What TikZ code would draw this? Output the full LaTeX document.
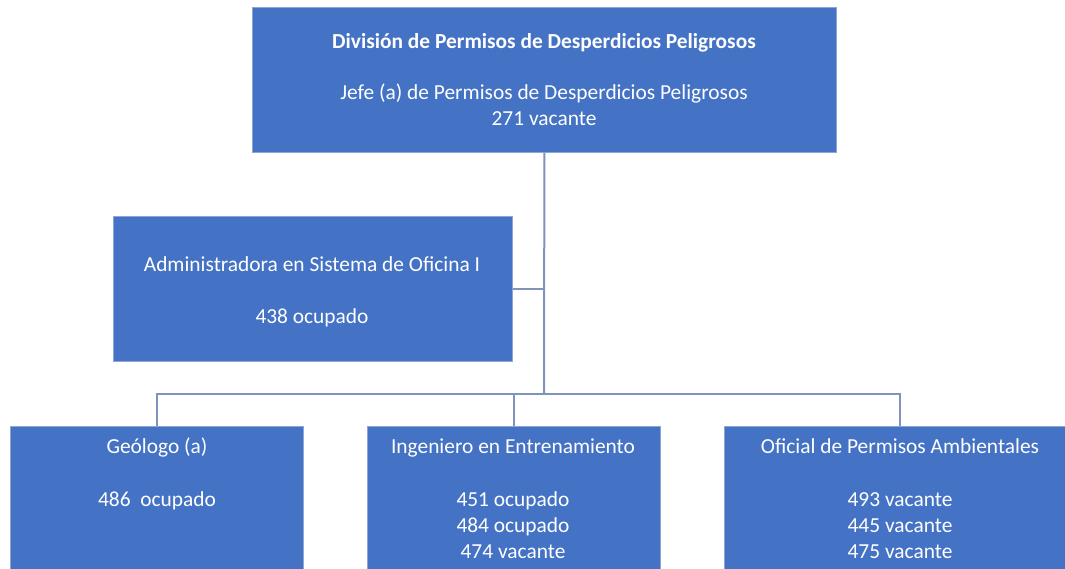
\documentclass[tikz,border=0pt]{standalone}
\usepackage{fontspec}
\setmainfont{Carlito}
\definecolor{boxfill}{HTML}{4472C4}
\definecolor{boxedge}{HTML}{8EA5D6}
\definecolor{linec}{HTML}{7F93BC}
\begin{document}
\begin{tikzpicture}[x=1pt,y=-1pt,
  box/.style={draw=boxedge, fill=boxfill, line width=0.8pt, anchor=north west, inner sep=0pt},
  lbl/.style={text=white, font=\fontsize{21.4}{26}\selectfont, inner sep=0pt, anchor=base},
  conn/.style={draw=linec, line width=2pt}]
\clip (0,0) rectangle (1065,569);
\fill[white] (0,0) rectangle (1065,569);
% boxes
\node[box, minimum width=584pt, minimum height=145pt] (top) at (252,7) {};
\node[box, minimum width=399pt, minimum height=145pt] (admin) at (113,216) {};
\node[box, minimum width=293pt, minimum height=160pt] (geo) at (10,426) {};
\node[box, minimum width=293pt, minimum height=160pt] (ing) at (367,426) {};
\node[box, minimum width=352pt, minimum height=160pt] (ofi) at (724,426) {};
% texts
\node[lbl, font=\bfseries\fontsize{21.4}{26}\selectfont] (t1) at (544,49) {División de Permisos de Desperdicios Peligrosos};
\node[lbl] (t2) at (544,100) {Jefe (a) de Permisos de Desperdicios Peligrosos};
\node[lbl] (t3) at (544,126) {271 vacante};
\node[lbl] (a1) at (312,272) {Administradora en Sistema de Oficina I};
\node[lbl] (a2) at (312,323) {438 ocupado};
\node[lbl] (g1) at (157,453) {Geólogo (a)};
\node[lbl] (g2) at (157,506) {486\ \ ocupado};
\node[lbl] (i1) at (513,453) {Ingeniero en Entrenamiento};
\node[lbl] (i2) at (513,506) {451 ocupado};
\node[lbl] (i3) at (513,532) {484 ocupado};
\node[lbl] (i4) at (513,558) {474 vacante};
\node[lbl] (o1) at (900,453) {Oficial de Permisos Ambientales};
\node[lbl] (o2) at (900,506) {493 vacante};
\node[lbl] (o3) at (900,532) {445 vacante};
\node[lbl] (o4) at (900,558) {475 vacante};
% connectors
\coordinate (j1) at (544,394);
\draw[conn] (top.south) -- (j1);
\draw[conn] (admin.east) -- (admin.east -| top.south);
\draw[conn] (geo.north) |- (j1) -| (ofi.north);
\draw[conn] (ing.north) -- (ing.north |- j1);
\end{tikzpicture}
\end{document}
